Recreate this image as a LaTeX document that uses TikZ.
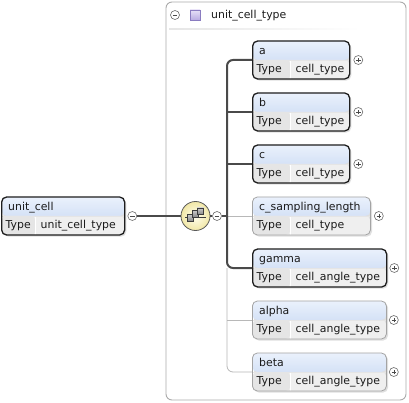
\documentclass[tikz,border=0pt]{standalone}
\usepackage{fontspec}
\setmainfont{DejaVu Sans}
\usetikzlibrary{shadows}
\definecolor{hdrtop}{HTML}{EAF1FC}
\definecolor{hdrbot}{HTML}{BFD2F0}
\definecolor{valgray}{HTML}{EFEFEF}
\definecolor{typegray}{HTML}{E5E5E5}
\definecolor{mandborder}{HTML}{1E1E1E}
\definecolor{optborder}{HTML}{A4A4A4}
\definecolor{pmcol}{HTML}{6A6A6A}
\definecolor{thickcol}{HTML}{4A4A4A}
\definecolor{thincol}{HTML}{B8B8B8}
\definecolor{txtcol}{HTML}{1A1A1A}
\definecolor{contborder}{HTML}{ABABAB}
\tikzset{
  elem/.style={rectangle, rounded corners=5, minimum height=38, inner sep=0, anchor=west,
    drop shadow={shadow xshift=1.6pt, shadow yshift=-1.6pt, opacity=0.25},
    path picture={
      \shade[top color=hdrtop, bottom color=hdrbot] (path picture bounding box.north west) rectangle (path picture bounding box.east);
      \fill[valgray] (path picture bounding box.west) rectangle (path picture bounding box.south east);
      \fill[typegray] (path picture bounding box.west) rectangle ([xshift=#1]path picture bounding box.south west);
      \draw[white, line width=0.7] ([xshift=#1]path picture bounding box.west) -- ([xshift=#1]path picture bounding box.south west);
      \draw[white!80!gray, line width=0.5] (path picture bounding box.west) -- (path picture bounding box.east);
    }},
  mand/.style={draw=mandborder, line width=1.3},
  opt/.style={draw=optborder, line width=0.8},
  txt/.style={font=\fontsize{10.9}{12}\selectfont, inner sep=0, text height=8, text depth=2.5, anchor=west, text=txtcol},
  pm/.style={circle, draw=pmcol, fill=white, line width=0.6, minimum size=9, inner sep=0},
  pmminus/.style={path picture={\draw[line width=0.6, pmcol!70!black] ([xshift=-2.3pt]path picture bounding box.center) -- ([xshift=2.3pt]path picture bounding box.center);}},
  pmplus/.style={path picture={\draw[line width=0.6, pmcol!70!black] ([xshift=-2.3pt]path picture bounding box.center) -- ([xshift=2.3pt]path picture bounding box.center);
      \draw[line width=0.6, pmcol!70!black] ([yshift=-2.3pt]path picture bounding box.center) -- ([yshift=2.3pt]path picture bounding box.center);}},
  conn/.style={draw=thickcol, line width=2},
  thinconn/.style={draw=thincol, line width=0.8},
  container/.style={draw=contborder, line width=0.9, fill=white, rounded corners=6},
  lav/.style={rectangle, minimum size=10, inner sep=0, draw=lavb, top color=lavt, bottom color=lavbot, line width=0.6},
  seqsym/.style={circle, minimum size=29, inner sep=0, draw=seqb, line width=0.8, inner color=seqin, outer color=seqout},
  iconbox/.style={draw=iconb, line width=0.5, top color=icont, bottom color=iconbot},
}
\definecolor{lavb}{HTML}{8A7CC0}
\definecolor{lavt}{HTML}{E6E0F7}
\definecolor{lavbot}{HTML}{B8ABE2}
\definecolor{seqb}{HTML}{5A5A5A}
\definecolor{seqin}{HTML}{FFFEF0}
\definecolor{seqout}{HTML}{F1E7A6}
\definecolor{iconb}{HTML}{3C3C3C}
\definecolor{icont}{HTML}{C8C8C8}
\definecolor{iconbot}{HTML}{8A8A8A}
\newcommand\elembox[8]{%
  \node[elem=#8, #7, minimum width=#4] (#1) at (#2,#3) {};
  \node[txt] (#1-n) at ([xshift=7,yshift=8.5]#1.west) {#5};
  \node[txt] (#1-t) at ([xshift=4.5,yshift=-10]#1.west) {Type};
  \node[txt] (#1-v) at ([xshift=#8+5.5,yshift=-10]#1.west) {#6};
}
\begin{document}
\begin{tikzpicture}[x=1pt, y=-1pt]
\useasboundingbox (0,0) rectangle (409,403);
\fill[white] (0,0) rectangle (409,403);
% container
\draw[container] (166,2) rectangle (406,400);
\shade[left color=black!10, right color=white] (169,28.3) rectangle (360,29.8);
\node[pm, pmminus] (hdrminus) at (175,15) {};
\node[lav] (hdrsq) at (195,15) {};
\node[txt] (hdrtxt) at (211,16) {unit\_cell\_type};
% root element
\elembox{uc}{1}{216}{123}{unit\_cell}{unit\_cell\_type}{mand}{34}
\node[pm, pmminus] (ucminus) at ([xshift=7]uc.east) {};
% sequence compositor
\node[seqsym] (seq) at (195.5,216) {};
\begin{scope}[shift={(seq.center)}]
  \draw[iconb, line width=0.7] (-10.5,1) -- (10.5,1);
  \draw[iconbox] (-8.5,-1.5) rectangle (-2.5,5);
  \draw[iconbox] (-3.5,-5.5) rectangle (2.5,1);
  \draw[iconbox] (1.5,-8) rectangle (8,-1.5);
\end{scope}
\node[pm, pmminus] (seqminus) at (217,216) {};
\coordinate (spine) at (227,216);
% children
\elembox{a}{252}{60}{97}{a}{cell\_type}{mand}{38}
\elembox{b}{252}{112}{97}{b}{cell\_type}{mand}{38}
\elembox{c}{252}{164}{97}{c}{cell\_type}{mand}{38}
\elembox{csl}{252}{216}{118}{c\_sampling\_length}{cell\_type}{opt}{38}
\elembox{gamma}{252}{268}{134}{gamma}{cell\_angle\_type}{mand}{38}
\elembox{alpha}{252}{320}{134}{alpha}{cell\_angle\_type}{opt}{38}
\elembox{beta}{252}{372}{134}{beta}{cell\_angle\_type}{opt}{38}
\node[pm, pmplus] (a-p) at ([xshift=8]a.east) {};
\node[pm, pmplus] (b-p) at ([xshift=8]b.east) {};
\node[pm, pmplus] (c-p) at ([xshift=8]c.east) {};
\node[pm, pmplus] (csl-p) at ([xshift=8]csl.east) {};
\node[pm, pmplus] (gamma-p) at ([xshift=7]gamma.east) {};
\node[pm, pmplus] (alpha-p) at ([xshift=7]alpha.east) {};
\node[pm, pmplus] (beta-p) at ([xshift=7]beta.east) {};
% connectors
\draw[conn] (ucminus) -- (seq);
\draw[conn] (seq) -- (seqminus);
\draw[conn] (seqminus) -- (spine);
\draw[thinconn] (spine) -- (csl.west);
\draw[thinconn, rounded corners=6] (spine |- gamma.west) |- (beta.west);
\draw[thinconn] (spine |- alpha.west) -- (alpha.west);
\draw[conn, rounded corners=6] (a.west) -| (spine) |- (gamma.west);
\draw[conn] (spine |- b.west) -- (b.west);
\draw[conn] (spine |- c.west) -- (c.west);
\end{tikzpicture}
\end{document}
